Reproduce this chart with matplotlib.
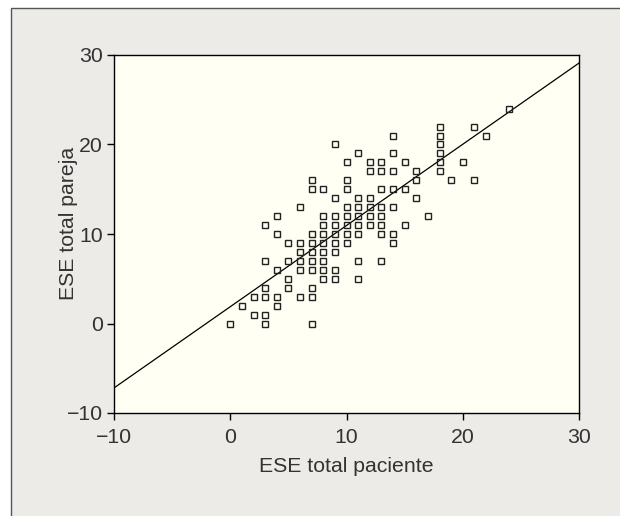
import matplotlib
matplotlib.use('Agg')
import matplotlib.pyplot as plt
from matplotlib.patches import Rectangle

# Scatter data: (ESE total paciente, ESE total pareja)
paciente = [9,
            11, 14, 18,
            10, 12, 13, 15, 18, 20,
            7, 10, 16, 19, 21,
            7, 8, 10, 13, 14, 15,
            9, 11, 12, 16,
            6, 10, 11, 12, 13, 14,
            4, 8, 9, 10, 11, 12, 13, 17,
            3, 8, 9, 10, 11, 12, 13, 15,
            18, 21,
            14, 18, 22,
            18,
            12, 13, 14, 16, 18,
            24,
            4, 7, 8, 9, 10, 11, 13, 14,
            5, 6, 7, 8, 9, 10, 14,
            6, 7, 8, 9,
            3, 5, 6, 7, 8, 11, 13,
            4, 6, 7, 8, 9,
            5, 8, 9, 11,
            3, 5, 7,
            2, 3, 4, 6, 7,
            1, 4,
            2, 3,
            0, 3, 7]
pareja = [20,
          19, 19, 19,
          18, 18, 18, 18, 18, 18,
          16, 16, 16, 16, 16,
          15, 15, 15, 15, 15, 15,
          14, 14, 14, 14,
          13, 13, 13, 13, 13, 13,
          12, 12, 12, 12, 12, 12, 12, 12,
          11, 11, 11, 11, 11, 11, 11, 11,
          22, 22,
          21, 21, 21,
          20,
          17, 17, 17, 17, 17,
          24,
          10, 10, 10, 10, 10, 10, 10, 10,
          9, 9, 9, 9, 9, 9, 9,
          8, 8, 8, 8,
          7, 7, 7, 7, 7, 7, 7,
          6, 6, 6, 6, 6,
          5, 5, 5, 5,
          4, 4, 4,
          3, 3, 3, 3, 3,
          2, 2,
          1, 1,
          0, 0, 0]

# Fit line end points
line_x = [-10, 30]
line_y = [-7.2, 29.1]

ticks = [-10, 0, 10, 20, 30]

plt.rcParams['font.family'] = ['Liberation Sans', 'DejaVu Sans']
txt = '#333333'
fs = 15.3

fig = plt.figure(figsize=(6.2, 5.16), dpi=100, facecolor='white')

# grey panel with a dark frame (only left/top edges visible)
panel = Rectangle((11 / 620, -0.1), 1.0, 1 - 8 / 516 + 0.1,
                  transform=fig.transFigure, facecolor='#ecebe8',
                  edgecolor='#555555', linewidth=1.0, zorder=-10)
fig.add_artist(panel)

ax = fig.add_axes([114 / 620, 1 - 413 / 516, 465 / 620, 358 / 516])
ax.set_zorder(5)
ax.set_facecolor('#fffff3')

ax.plot(line_x, line_y, color='black', lw=0.9, zorder=2)
ax.plot(paciente, pareja, linestyle='none', marker='s', markersize=4.6,
        markerfacecolor='none', markeredgecolor='#222222',
        markeredgewidth=1.0, zorder=3)

ax.set_xlim(-10, 30)
ax.set_ylim(-10, 30)
ax.set_xticks(ticks)
ax.set_yticks(ticks)
ax.tick_params(direction='out', length=5, width=1.0, colors='black',
               labelcolor=txt, labelsize=fs)
ax.tick_params(axis='x', pad=6)
ax.tick_params(axis='y', pad=3)
for s in ax.spines.values():
    s.set_color('black')
    s.set_linewidth(1.0)

ax.set_xlabel('ESE total paciente', fontsize=fs, color=txt, labelpad=7)
ax.set_ylabel('ESE total pareja', fontsize=fs, color=txt)
ax.yaxis.set_label_coords(-0.078, 0.53)

fig.savefig('out.png', dpi=100, facecolor=fig.get_facecolor())
